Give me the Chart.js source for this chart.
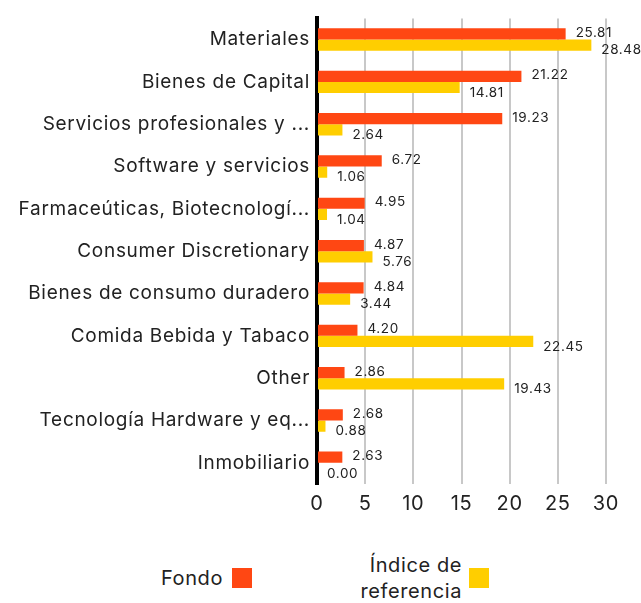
<!DOCTYPE html>
<html>
<head>
<meta charset="utf-8">
<script src="https://cdn.jsdelivr.net/npm/chart.js@4"></script>
<style>
  html, body { margin: 0; padding: 0; background: #fff; }
  #wrap { position: relative; width: 641px; height: 603px; font-family: Inter, "Noto Sans", sans-serif; color: #222; }
  #cbox { position: absolute; left: 0; top: 0; width: 641px; height: 540px; }
  .lg { position: absolute; font-size: 20px; line-height: 26px; text-align: right; letter-spacing: 0.6px; }
  .sw { position: absolute; width: 20px; height: 20px; }
</style>
</head>
<body>
<div id="wrap">
  <div id="cbox"><canvas id="c"></canvas></div>
  <div class="lg" style="left:100px; width:123px; top:565px;">Fondo</div>
  <div class="sw" style="left:232px; top:568px; background:#FF4713;"></div>
  <div class="lg" style="left:300px; width:162px; top:552px;">Índice de<br>referencia</div>
  <div class="sw" style="left:469px; top:568px; background:#FFCE00;"></div>
</div>
<script>
const categories = [
  "Materiales",
  "Bienes de Capital",
  "Servicios profesionales y ...",
  "Software y servicios",
  "Farmaceúticas, Biotecnologí...",
  "Consumer Discretionary",
  "Bienes de consumo duradero",
  "Comida Bebida y Tabaco",
  "Other",
  "Tecnología Hardware y eq...",
  "Inmobiliario"
];
const fondo = [25.81, 21.22, 19.23, 6.72, 4.95, 4.87, 4.84, 4.20, 2.86, 2.68, 2.63];
const indice = [28.48, 14.81, 2.64, 1.06, 1.04, 5.76, 3.44, 22.45, 19.43, 0.88, 0.00];
const xTicks = [0, 5, 10, 15, 20, 25, 30];

const FONT = 'Inter, "Noto Sans", sans-serif';

const spacing = {
  id: 'spacing',
  beforeLayout(chart) { chart.ctx.letterSpacing = '0.7px'; },
  beforeDraw(chart) { chart.ctx.letterSpacing = '0.7px'; }
};

const valueLabels = {
  id: 'valueLabels',
  afterDatasetsDraw(chart) {
    const ctx = chart.ctx;
    ctx.save();
    ctx.letterSpacing = '0.6px';
    ctx.font = '13.5px ' + FONT;
    ctx.fillStyle = '#222';
    ctx.textAlign = 'left';
    ctx.textBaseline = 'middle';
    chart.data.datasets.forEach((ds, di) => {
      const meta = chart.getDatasetMeta(di);
      meta.data.forEach((bar, i) => {
        const dy = di === 0 ? -1 : 5;
        ctx.fillText(ds.data[i].toFixed(2), bar.x + 10, bar.y + dy);
      });
    });
    ctx.restore();
  }
};

new Chart(document.getElementById('c'), {
  type: 'bar',
  data: {
    labels: categories,
    datasets: [
      { label: 'Fondo', data: fondo, backgroundColor: '#FF4713', barPercentage: 1, categoryPercentage: 0.53 },
      { label: 'Índice de referencia', data: indice, backgroundColor: '#FFCE00', barPercentage: 1, categoryPercentage: 0.53 }
    ]
  },
  options: {
    indexAxis: 'y',
    responsive: true,
    maintainAspectRatio: false,
    animation: false,
    layout: { padding: { top: 16, right: 35, left: 0, bottom: 0 } },
    plugins: { legend: { display: false }, tooltip: { enabled: false } },
    scales: {
      x: {
        min: 0, max: 30,
        afterBuildTicks(scale) { scale.ticks = xTicks.map(v => ({ value: v })); },
        afterFit(scale) { scale.height = 56; },
        grid: { color: '#c8c8c8', lineWidth: 2, drawTicks: false },
        border: { display: false },
        ticks: { color: '#222', font: { family: FONT, size: 20 }, padding: 8 }
      },
      y: {
        afterFit(scale) { scale.width = 317; },
        grid: { display: false, drawTicks: false },
        border: { display: true, color: '#000', width: 4 },
        ticks: { color: '#222', font: { family: FONT, size: 19 }, padding: 7 }
      }
    }
  },
  plugins: [spacing, valueLabels]
});
</script>
</body>
</html>
